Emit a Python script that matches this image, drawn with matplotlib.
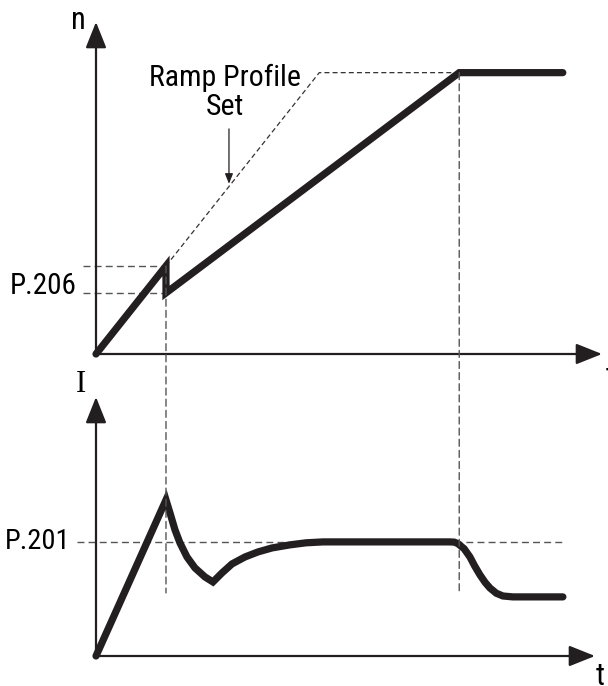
import matplotlib.pyplot as plt
from matplotlib import font_manager
from matplotlib.patches import ConnectionPatch

# speed curve (top), normalised so final speed = 1
t_n = [0, 1.0, 1.0, 5.19, 6.67]
n_motor = [0, 0.313, 0.217, 1.0, 1.0]
# ramp profile set (dashed)
t_ramp = [1.0, 3.19, 5.19]
n_ramp = [0.313, 1.0, 1.0]
p206_levels = [0.313, 0.217]

# current curve (bottom), normalised so P.201 = 1
t_i = [0, 1.0, 1.057, 1.129, 1.2, 1.3, 1.414, 1.557, 1.671, 1.8, 1.943,
       2.129, 2.314, 2.514, 2.771, 3.0, 3.243, 5.057, 5.12, 5.171, 5.26,
       5.343, 5.41, 5.486, 5.56, 5.629, 5.72, 5.814, 5.957, 6.671]
i_motor = [0, 1.368, 1.254, 1.105, 0.991, 0.868, 0.772, 0.693, 0.649, 0.728,
           0.807, 0.868, 0.912, 0.947, 0.974, 0.992, 1.0, 1.0, 0.998, 0.985,
           0.94, 0.868, 0.79, 0.711, 0.645, 0.596, 0.55, 0.526, 0.518, 0.518]
p201 = 1.0

t_marks = [1.0, 5.19]

# pick a narrow font if there is one
fonts = font_manager.fontManager.ttflist
font = dict(family="DejaVu Sans", stretch="condensed")
for pref in ["Liberation Sans Narrow", "Roboto Condensed", "Roboto"]:
    hit = [f for f in fonts if f.name == pref and
           ("Narrow" in pref or "ondensed" in str(f.stretch) or "Condensed" in pref)]
    if hit:
        font = dict(family=pref, stretch=hit[0].stretch)
        break

W, H = 608, 686
fig = plt.figure(figsize=(W / 100, H / 100), dpi=100)

def axes_px(x0, y0, x1, y1):
    # x0,y0 = origin pixel, x1,y1 = far corner pixel
    return fig.add_axes([x0 / W, 1 - y0 / H, (x1 - x0) / W, (y0 - y1) / H])

ax1 = axes_px(96, 354, 602, 22)
ax1.set_xlim(0, 7.23)
ax1.set_ylim(0, 1.18)
ax2 = axes_px(96, 656, 595, 397)
ax2.set_xlim(0, 7.13)
ax2.set_ylim(0, 2.27)

dash = dict(color="#555555", lw=1.0, ls=(0, (5, 3)), clip_on=False)
thick = dict(color="#231f20", lw=5.2, solid_capstyle="round",
             solid_joinstyle="miter", clip_on=False, zorder=5)

for ax in (ax1, ax2):
    ax.axis("off")
    ax.annotate("", xy=(1, 0), xytext=(0, 0), xycoords="axes fraction",
                arrowprops=dict(arrowstyle="-|>,head_length=0.8,head_width=0.32",
                                lw=1.6, color="#231f20", mutation_scale=20,
                                shrinkA=0, shrinkB=0))
    ax.annotate("", xy=(0, 1), xytext=(0, 0), xycoords="axes fraction",
                arrowprops=dict(arrowstyle="-|>,head_length=0.8,head_width=0.32",
                                lw=1.6, color="#231f20", mutation_scale=20,
                                shrinkA=0, shrinkB=0))

# top panel
ax1.plot(t_ramp, n_ramp, color="#333333", lw=0.9, ls=(0, (4, 2.5)))
for lv in p206_levels:
    ax1.plot([-0.19, t_marks[0]], [lv, lv], **dash)
ax1.plot(t_n, n_motor, **thick)
ax1.text(-0.28, 0.24, "P.206", ha="right", va="center", fontsize=21, **font)
ax1.text(-0.25, 1.185, "n", ha="center", va="center", fontsize=22, **font)
ax1.text(7.35, -0.08, "t", ha="center", va="center", fontsize=22, **font)
ax1.text(1.84, 0.93, "Ramp Profile\nSet", ha="center", va="center",
         multialignment="center", linespacing=1.05, fontsize=21.5, **font)
ax1.annotate("", xy=(1.9, 0.605), xytext=(1.9, 0.80),
             arrowprops=dict(arrowstyle="-|>,head_length=0.5,head_width=0.2",
                             lw=0.9, color="#231f20", mutation_scale=12,
                             shrinkA=0, shrinkB=0))

# bottom panel
ax2.plot([-0.27, 6.67], [p201, p201], **dash)
ax2.plot(t_i, i_motor, **thick)
ax2.text(-0.37, p201, "P.201", ha="right", va="center", fontsize=20.5, **font)
ax2.text(-0.22, 2.38, "I", ha="center", va="center", fontsize=22,
         family="Liberation Serif")
ax2.text(7.2, -0.18, "t", ha="center", va="center", fontsize=22, **font)

# vertical guides running through both panels
for tm, top in zip(t_marks, [p206_levels[0], 1.0]):
    fig.add_artist(ConnectionPatch(xyA=(tm, top), coordsA=ax1.transData,
                                   xyB=(tm, 0.553), coordsB=ax2.transData,
                                   color="#555555", lw=1.0, ls=(0, (5, 3))))

fig.savefig("out.png", dpi=100)
